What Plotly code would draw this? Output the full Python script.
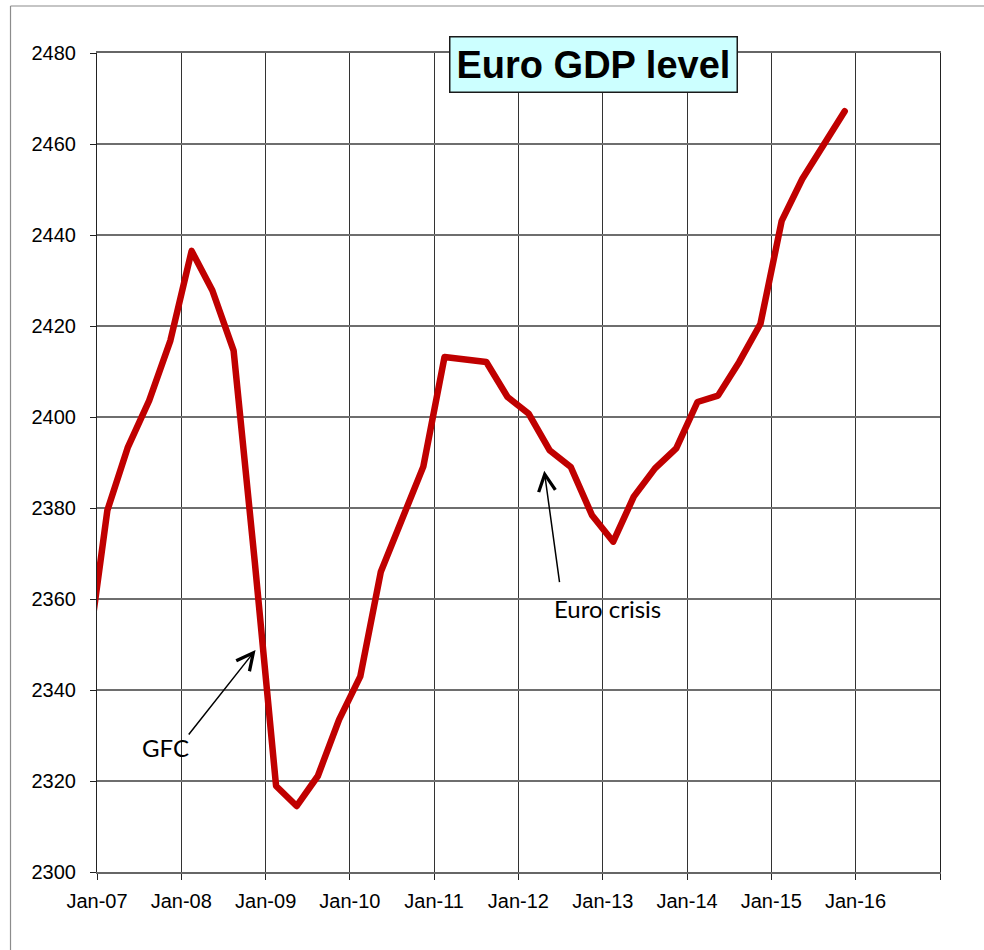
import plotly.graph_objects as go

# Quarterly observations, plotted at mid-quarter
quarter_dates = [
    "2006-11-15",
    "2007-02-15", "2007-05-15", "2007-08-15", "2007-11-15",
    "2008-02-15", "2008-05-15", "2008-08-15", "2008-11-15",
    "2009-02-15", "2009-05-15", "2009-08-15", "2009-11-15",
    "2010-02-15", "2010-05-15", "2010-08-15", "2010-11-15",
    "2011-02-15", "2011-05-15", "2011-08-15", "2011-11-15",
    "2012-02-15", "2012-05-15", "2012-08-15", "2012-11-15",
    "2013-02-15", "2013-05-15", "2013-08-15", "2013-11-15",
    "2014-02-15", "2014-05-15", "2014-08-15", "2014-11-15",
    "2015-02-15", "2015-05-15", "2015-08-15", "2015-11-15",
]
gdp_level = [
    2345.0,
    2379.5, 2393.4, 2403.6, 2416.8,
    2436.5, 2427.8, 2414.6, 2368.0,
    2318.9, 2314.5, 2321.1, 2333.5,
    2343.0, 2366.0, 2377.3, 2389.1,
    2413.2, 2412.6, 2412.1, 2404.4,
    2400.7, 2392.7, 2389.0, 2378.4,
    2372.6, 2382.5, 2388.7, 2393.1,
    2403.3, 2404.7, 2412.1, 2420.5,
    2443.1, 2452.3, 2459.7, 2467.2,
]

year_ticks = ["2007-01-01", "2008-01-01", "2009-01-01", "2010-01-01", "2011-01-01",
              "2012-01-01", "2013-01-01", "2014-01-01", "2015-01-01", "2016-01-01",
              "2017-01-01"]
year_labels = ["Jan-07", "Jan-08", "Jan-09", "Jan-10", "Jan-11",
               "Jan-12", "Jan-13", "Jan-14", "Jan-15", "Jan-16", ""]
y_ticks = [2300, 2320, 2340, 2360, 2380, 2400, 2420, 2440, 2460, 2480]

TICK_FONT = dict(family="Liberation Sans, Arial, sans-serif", size=20, color="black")
NOTE_FONT = dict(family="Lato, Carlito, Calibri, sans-serif", size=24, color="black")

fig = go.Figure()
fig.add_trace(go.Scatter(
    x=quarter_dates, y=gdp_level, mode="lines",
    line=dict(color="#C00000", width=6.5),
    hoverinfo="x+y", showlegend=False,
))

fig.update_layout(
    width=984, height=950, autosize=False,
    margin=dict(l=97, r=44, t=53, b=78),
    paper_bgcolor="white", plot_bgcolor="white",
    xaxis=dict(
        type="date", range=["2007-01-01", "2017-01-01"],
        tickmode="array", tickvals=year_ticks, ticktext=year_labels,
        showgrid=True, gridcolor="#333333", gridwidth=1,
        showline=True, linecolor="#666666", linewidth=1.6, mirror=True,
        ticks="outside", ticklen=6, tickcolor="#222222", tickwidth=1,
        tickfont=TICK_FONT, ticklabelstandoff=4, zeroline=False,
    ),
    yaxis=dict(
        range=[2300, 2480], tickmode="array", tickvals=y_ticks,
        showgrid=True, gridcolor="#6e6e6e", gridwidth=1.6,
        showline=True, linecolor="#222222", linewidth=1, mirror=True,
        ticks="outside", ticklen=6, tickcolor="#222222", tickwidth=1,
        tickfont=TICK_FONT, ticklabelstandoff=10, zeroline=False,
    ),
)

# Outer chart frame: only its left and top edges fall inside the page
frame = dict(color="#8c8c8c", width=1.2)
fig.add_shape(type="line", xref="paper", yref="paper",
              x0=-0.1026, x1=-0.1026, y0=-0.15, y1=1.0574, line=frame, layer="below")
fig.add_shape(type="line", xref="paper", yref="paper",
              x0=-0.1026, x1=1.1, y0=1.0574, y1=1.0574, line=frame, layer="below")

# Boxed title
fig.add_annotation(
    xref="paper", yref="paper", x=0.5884, y=0.986,
    xanchor="center", yanchor="middle", showarrow=False,
    text="<b>Euro GDP level</b>",
    font=dict(family="Liberation Sans, Arial, sans-serif", size=38, color="black"),
    bgcolor="#CCFFFF", bordercolor="#1a1a1a", borderwidth=1.5, borderpad=6,
)

# Event notes with arrows
fig.add_annotation(x="2008-11-18", y=2348.8, text="", showarrow=True,
                   arrowhead=5, arrowsize=2.2, arrowwidth=1.5, arrowcolor="black",
                   ax=-68, ay=86, standoff=0)
fig.add_annotation(x="2007-07-08", y=2327.3, text="GFC", showarrow=False,
                   xanchor="left", yanchor="middle", font=NOTE_FONT)

fig.add_annotation(x="2012-04-22", y=2388.2, text="", showarrow=True,
                   arrowhead=5, arrowsize=2.2, arrowwidth=1.5, arrowcolor="black",
                   ax=15.5, ay=113, standoff=0)
fig.add_annotation(x="2012-05-25", y=2358.0, text="Euro crisis", showarrow=False,
                   xanchor="left", yanchor="middle", font=NOTE_FONT)

fig.write_html(
    "out.html",
    post_script="document.querySelectorAll('.js-line').forEach(function(p){p.style.strokeLinejoin='round';p.style.strokeLinecap='round';});",
)
